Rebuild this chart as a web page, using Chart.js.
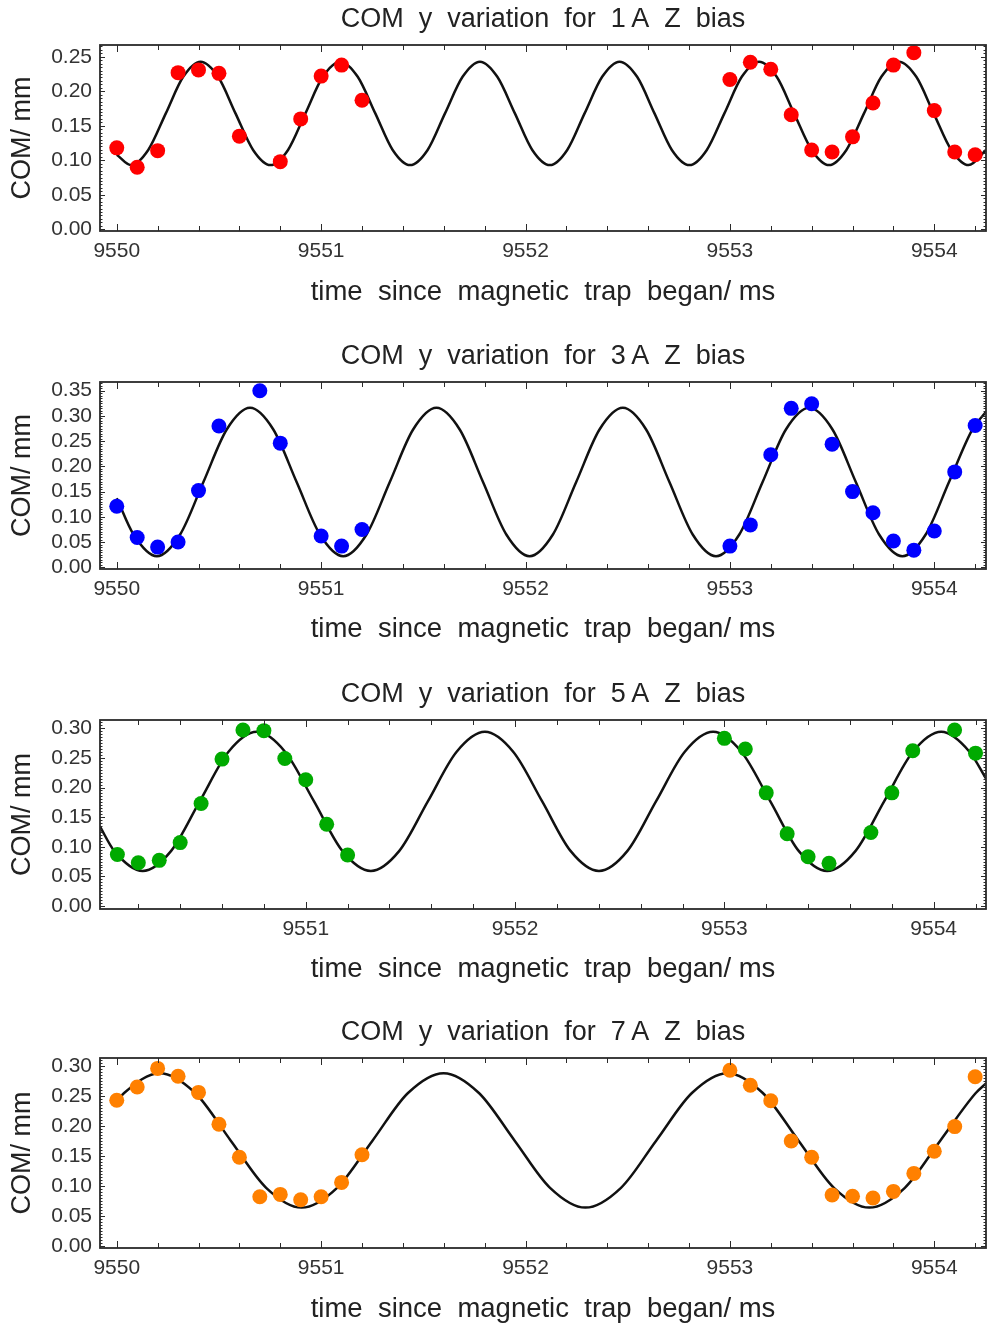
<!DOCTYPE html>
<html lang="en">
<head>
<meta charset="UTF-8">
<title>COM y variation for Z bias</title>
<script src="https://cdn.jsdelivr.net/npm/chart.js@4.4.1/dist/chart.umd.min.js"></script>
<style>
  html, body { margin: 0; padding: 0; background: #fff; overflow: hidden; }
  #page { position: relative; width: 987px; height: 1328px; }
  #page canvas { position: absolute; left: 0; }
</style>
</head>
<body>
<div id="page">
  <canvas id="c1" width="987" height="320" style="top:0px"></canvas>
  <canvas id="c2" width="987" height="320" style="top:337px"></canvas>
  <canvas id="c3" width="987" height="320" style="top:675px"></canvas>
  <canvas id="c4" width="987" height="320" style="top:1013px"></canvas>
</div>
<script>
// bias current of each panel
const biasLabels = ['1\u2009A', '3\u2009A', '5\u2009A', '7\u2009A'];
const xTickLabels = [9550, 9551, 9552, 9553, 9554];

// measured points (time / ms, COM / mm)
const pts1T = [9550.0, 9550.1, 9550.2, 9550.3, 9550.4, 9550.5, 9550.6, 9550.8, 9550.9, 9551.0, 9551.1, 9551.2,
  9553.0, 9553.1, 9553.2, 9553.3, 9553.4, 9553.5, 9553.6, 9553.7, 9553.8, 9553.9, 9554.0, 9554.1, 9554.2];
const pts1Y = [0.118, 0.090, 0.114, 0.227, 0.231, 0.226, 0.135, 0.098, 0.160, 0.222, 0.238, 0.187,
  0.217, 0.242, 0.232, 0.166, 0.115, 0.112, 0.134, 0.183, 0.238, 0.256, 0.172, 0.112, 0.108];

const pts2T = [9550.0, 9550.1, 9550.2, 9550.3, 9550.4, 9550.5, 9550.7, 9550.8, 9551.0, 9551.1, 9551.2,
  9553.0, 9553.1, 9553.2, 9553.3, 9553.4, 9553.5, 9553.6, 9553.7, 9553.8, 9553.9, 9554.0, 9554.1, 9554.2];
const pts2Y = [0.121, 0.059, 0.040, 0.050, 0.152, 0.280, 0.350, 0.246, 0.062, 0.042, 0.075,
  0.042, 0.084, 0.223, 0.315, 0.324, 0.244, 0.150, 0.108, 0.052, 0.034, 0.072, 0.189, 0.281];

const pts3T = [9550.1, 9550.2, 9550.3, 9550.4, 9550.5, 9550.6, 9550.7, 9550.8, 9550.9, 9551.0, 9551.1, 9551.2,
  9553.0, 9553.1, 9553.2, 9553.3, 9553.4, 9553.5, 9553.7, 9553.8, 9553.9, 9554.1, 9554.2];
const pts3Y = [0.087, 0.073, 0.077, 0.107, 0.173, 0.248, 0.297, 0.296, 0.249, 0.213, 0.138, 0.086,
  0.283, 0.265, 0.191, 0.122, 0.083, 0.072, 0.124, 0.191, 0.262, 0.297, 0.258];

const pts4T = [9550.0, 9550.1, 9550.2, 9550.3, 9550.4, 9550.5, 9550.6, 9550.7, 9550.8, 9550.9, 9551.0, 9551.1, 9551.2,
  9553.0, 9553.1, 9553.2, 9553.3, 9553.4, 9553.5, 9553.6, 9553.7, 9553.8, 9553.9, 9554.0, 9554.1, 9554.2];
const pts4Y = [0.243, 0.265, 0.296, 0.283, 0.256, 0.203, 0.148, 0.082, 0.086, 0.077, 0.082, 0.106, 0.152,
  0.293, 0.268, 0.242, 0.175, 0.148, 0.085, 0.083, 0.080, 0.091, 0.121, 0.158, 0.199, 0.282];

const fit1T = [9550.000, 9550.069, 9550.154, 9550.240, 9550.325, 9550.410, 9550.496, 9550.581, 9550.667, 9550.752,
  9550.838, 9550.923, 9551.008, 9551.094, 9551.179, 9551.265, 9551.350, 9551.435, 9551.521, 9551.606,
  9551.692, 9551.777, 9551.862, 9551.948, 9552.033, 9552.119, 9552.204, 9552.289, 9552.375, 9552.460,
  9552.546, 9552.631, 9552.716, 9552.802, 9552.887, 9552.973, 9553.058, 9553.143, 9553.229, 9553.314,
  9553.400, 9553.485, 9553.570, 9553.656, 9553.741, 9553.827, 9553.912, 9553.997, 9554.083, 9554.168, 9554.253];
const fit1Y = [0.108, 0.093, 0.115, 0.168, 0.221, 0.243, 0.221, 0.168, 0.115, 0.093,
  0.115, 0.168, 0.221, 0.243, 0.221, 0.168, 0.115, 0.093, 0.115, 0.168,
  0.221, 0.243, 0.221, 0.168, 0.115, 0.093, 0.115, 0.168, 0.221, 0.243,
  0.221, 0.168, 0.115, 0.093, 0.115, 0.168, 0.221, 0.243, 0.221, 0.168,
  0.115, 0.093, 0.115, 0.168, 0.221, 0.243, 0.221, 0.168, 0.115, 0.093, 0.115];

const fit2T = [9550.000, 9550.082, 9550.196, 9550.310, 9550.424, 9550.538, 9550.652, 9550.766, 9550.880, 9550.994,
  9551.108, 9551.222, 9551.336, 9551.450, 9551.564, 9551.678, 9551.792, 9551.906, 9552.020, 9552.134,
  9552.248, 9552.362, 9552.476, 9552.590, 9552.704, 9552.818, 9552.932, 9553.046, 9553.160, 9553.274,
  9553.388, 9553.502, 9553.616, 9553.730, 9553.844, 9553.958, 9554.072, 9554.186, 9554.253];
const fit2Y = [0.137, 0.065, 0.022, 0.065, 0.169, 0.273, 0.316, 0.273, 0.169, 0.065,
  0.022, 0.065, 0.169, 0.273, 0.316, 0.273, 0.169, 0.065, 0.022, 0.065,
  0.169, 0.273, 0.316, 0.273, 0.169, 0.065, 0.022, 0.065, 0.169, 0.273,
  0.316, 0.273, 0.169, 0.065, 0.022, 0.065, 0.169, 0.273, 0.308];

const fit3T = [9550.017, 9550.085, 9550.221, 9550.357, 9550.494, 9550.630, 9550.766, 9550.902, 9551.039, 9551.175,
  9551.311, 9551.447, 9551.584, 9551.720, 9551.856, 9551.992, 9552.129, 9552.265, 9552.401, 9552.537,
  9552.674, 9552.810, 9552.946, 9553.082, 9553.219, 9553.355, 9553.491, 9553.627, 9553.764, 9553.900,
  9554.036, 9554.172, 9554.250];
const fit3Y = [0.134, 0.093, 0.059, 0.093, 0.177, 0.260, 0.294, 0.260, 0.177, 0.093,
  0.059, 0.093, 0.177, 0.260, 0.294, 0.260, 0.177, 0.093, 0.059, 0.093,
  0.177, 0.260, 0.294, 0.260, 0.177, 0.093, 0.059, 0.093, 0.177, 0.260,
  0.294, 0.260, 0.215];

const fit4T = [9550.000, 9550.036, 9550.210, 9550.384, 9550.557, 9550.731, 9550.904, 9551.078, 9551.252, 9551.425,
  9551.599, 9551.772, 9551.946, 9552.120, 9552.293, 9552.467, 9552.640, 9552.814, 9552.988, 9553.161,
  9553.335, 9553.509, 9553.682, 9553.856, 9554.030, 9554.203, 9554.253];
const fit4Y = [0.241, 0.255, 0.288, 0.255, 0.176, 0.097, 0.064, 0.097, 0.176, 0.255,
  0.288, 0.255, 0.176, 0.097, 0.064, 0.097, 0.176, 0.255, 0.288, 0.255,
  0.176, 0.097, 0.064, 0.097, 0.176, 0.255, 0.271];

// panel geometry and colours
const panels = [
  { id: 'c1', pT: pts1T, pY: pts1Y, fT: fit1T, fY: fit1Y, color: '#ff0000',
    xMin: 9549.918, xMax: 9554.253, yMin: -0.0025, yMax: 0.2671, areaBottom: 231, xTitlePad: 11 },
  { id: 'c2', pT: pts2T, pY: pts2Y, fT: fit2T, fY: fit2Y, color: '#0000ff',
    xMin: 9549.918, xMax: 9554.253, yMin: -0.0034, yMax: 0.3672, areaBottom: 232, xTitlePad: 11 },
  { id: 'c3', pT: pts3T, pY: pts3Y, fT: fit3T, fY: fit3Y, color: '#00aa00',
    xMin: 9550.017, xMax: 9554.250, yMin: -0.0051, yMax: 0.3140, areaBottom: 234, xTitlePad: 9 },
  { id: 'c4', pT: pts4T, pY: pts4Y, fT: fit4T, fY: fit4Y, color: '#ff8000',
    xMin: 9549.918, xMax: 9554.253, yMin: -0.0033, yMax: 0.3133, areaBottom: 235, xTitlePad: 7 }
];

Chart.defaults.font.family = "'Liberation Sans', Arial, sans-serif";
Chart.defaults.color = '#333';

// Mathematica-like frame with inward ticks on all four sides
const framePlugin = {
  id: 'frame',
  afterDatasetsDraw(chart) {
    const { ctx, chartArea: a, scales: { x, y } } = chart;
    ctx.save();
    ctx.strokeStyle = '#2a2a2a';
    ctx.lineWidth = 1;
    ctx.beginPath();
    x.ticks.forEach(t => {
      const px = Math.round(x.getPixelForValue(t.value)) + 0.5;
      const len = Math.abs(t.value - Math.round(t.value)) < 1e-6 ? 7 : 5;
      ctx.moveTo(px, a.bottom); ctx.lineTo(px, a.bottom - len);
      ctx.moveTo(px, a.top); ctx.lineTo(px, a.top + len);
    });
    for (let i = 0; i * 0.005 <= y.max; i++) {
      const py = Math.round(y.getPixelForValue(i * 0.005)) + 0.5;
      const len = i % 10 === 0 ? 5 : 2.5;
      ctx.moveTo(a.left, py); ctx.lineTo(a.left + len, py);
      ctx.moveTo(a.right, py); ctx.lineTo(a.right - len, py);
    }
    ctx.stroke();
    ctx.lineWidth = 1.8;
    ctx.strokeRect(a.left, a.top, a.right - a.left, a.bottom - a.top);
    ctx.restore();
  }
};

panels.forEach((p, n) => {
  const canvasH = 320;
  new Chart(document.getElementById(p.id), {
    type: 'scatter',
    plugins: [framePlugin],
    data: {
      datasets: [
        {
          data: p.pT.map((t, i) => ({ x: t, y: p.pY[i] })),
          pointRadius: 7.5,
          pointHoverRadius: 7.5,
          pointBackgroundColor: p.color,
          pointBorderWidth: 0
        },
        {
          data: p.fT.map((t, i) => ({ x: t, y: p.fY[i] })),
          showLine: true,
          pointRadius: 0,
          borderColor: '#111',
          borderWidth: 2.5,
          cubicInterpolationMode: 'monotone'
        }
      ]
    },
    options: {
      responsive: false,
      animation: false,
      events: [],
      layout: { autoPadding: false, padding: { left: 0, right: 1, top: 0, bottom: 0 } },
      plugins: {
        legend: { display: false },
        tooltip: { enabled: false },
        title: {
          display: true,
          fullSize: false,
          text: 'COM  y  variation  for  ' + biasLabels[n] + '  Z  bias',
          font: { size: 27, weight: 'normal' },
          color: '#222',
          padding: { top: 3, bottom: 9.6 }
        }
      },
      scales: {
        x: {
          type: 'linear',
          min: p.xMin,
          max: p.xMax,
          grid: { display: false, drawTicks: false },
          border: { display: false },
          ticks: {
            stepSize: 0.2,
            maxTicksLimit: 40,
            includeBounds: false,
            autoSkip: false,
            maxRotation: 0,
            minRotation: 0,
            padding: 8,
            font: { size: 21 },
            callback: v => {
              const r = Math.round(v);
              return Math.abs(v - r) < 1e-6 && xTickLabels.includes(r) ? String(r) : '';
            }
          },
          title: {
            display: true,
            text: 'time  since  magnetic  trap  began/ ms',
            font: { size: 27.5 },
            color: '#222',
            padding: { top: 0, bottom: p.xTitlePad }
          },
          afterFit: s => { s.height = canvasH - p.areaBottom; }
        },
        y: {
          type: 'linear',
          min: p.yMin,
          max: p.yMax,
          grid: { display: false, drawTicks: false },
          border: { display: false },
          ticks: {
            stepSize: 0.05,
            includeBounds: false,
            autoSkip: false,
            padding: 8,
            font: { size: 21 },
            callback: v => (v < -1e-9 ? '' : v.toFixed(2))
          },
          title: {
            display: true,
            text: 'COM/ mm',
            font: { size: 27 },
            color: '#222',
            padding: { top: 6.6, bottom: 0 }
          },
          afterFit: s => { s.width = 100; }
        }
      }
    }
  });
});
</script>
</body>
</html>
